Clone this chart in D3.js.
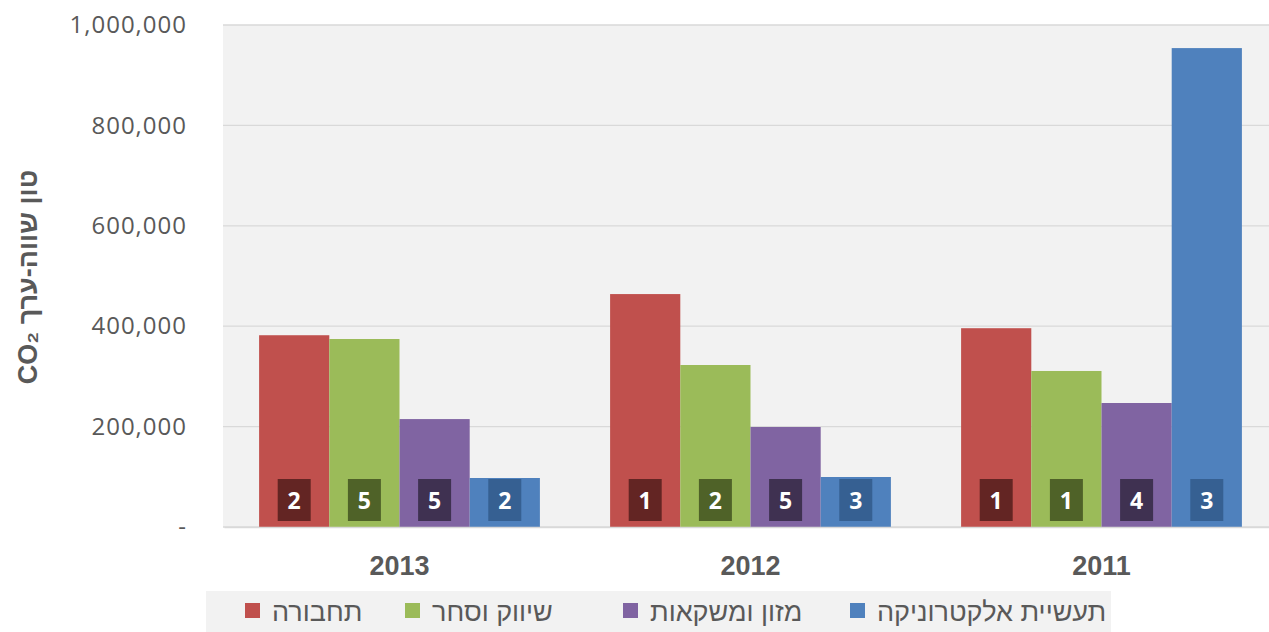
<!DOCTYPE html>
<html><head><meta charset="utf-8">
<script src="https://cdn.jsdelivr.net/npm/d3@7"></script>
<style>body{margin:0;background:#fff}svg{display:block}</style>
</head><body>
<script>
const years = ["2013","2012","2011"];
const seriesNames = ["תחבורה","שיווק וסחר","מזון ומשקאות","תעשיית אלקטרוניקה"];
const transport = [382000, 464000, 396000];
const trade = [374500, 322700, 310800];
const food = [215000, 199200, 247000];
const electronics = [97600, 99600, 954000];
const rankTransport = [2, 1, 1];
const rankTrade = [5, 2, 1];
const rankFood = [5, 5, 4];
const rankElectronics = [2, 3, 3];
const yTicks = [0, 200000, 400000, 600000, 800000, 1000000];
const yTickLabels = ["-", "200,000", "400,000", "600,000", "800,000", "1,000,000"];
const yTitle = "טון שווה-ערך CO₂";

const colors = ["#C0504D","#9BBB59","#8064A2","#4F81BD"];
const badgeColors = ["#632523","#4F6228","#3F3151","#366092"];
const values = [transport, trade, food, electronics];
const ranks = [rankTransport, rankTrade, rankFood, rankElectronics];

const W = 1269, H = 632;
const svg = d3.select("body").append("svg").attr("width", W).attr("height", H);
const font = "'Open Sans', sans-serif";
const hfont = "'Liberation Sans', Arial, sans-serif";
const grey = "#595959";

const pLeft = 224, pRight = 1277, pTop = 25, pBottom = 527;
const x = d3.scaleBand().domain(years).range([pLeft, pRight]).paddingInner(0.2).paddingOuter(0.1);
const xs = d3.scaleBand().domain(d3.range(4)).range([0, x.bandwidth()]);
const y = d3.scaleLinear().domain([0, 1000000]).range([pBottom, pTop]);

svg.append("rect").attr("x", pLeft - 1).attr("y", pTop).attr("width", pRight - pLeft).attr("height", pBottom - pTop).attr("fill", "#F2F2F2");

svg.append("g").selectAll("line").data(yTicks).join("line")
  .attr("x1", pLeft - 1).attr("x2", pRight)
  .attr("y1", d => y(d)).attr("y2", d => y(d))
  .attr("stroke", "#D9D9D9").attr("stroke-width", 1.3);

const yAxis = d3.axisLeft(y).tickValues(yTicks).tickSize(0).tickPadding(0)
  .tickFormat((d, i) => yTickLabels[i]);
const ga = svg.append("g").attr("transform", `translate(187,0)`).call(yAxis);
ga.select(".domain").remove();
ga.selectAll("text").attr("font-family", font).attr("font-size", 24).attr("fill", grey)
  .attr("letter-spacing", 1);

const groups = svg.append("g").selectAll("g").data(years).join("g")
  .attr("transform", d => `translate(${x(d)},0)`);

groups.each(function(yr, gi) {
  const g = d3.select(this);
  for (let s = 0; s < 4; s++) {
    const v = values[s][gi];
    g.append("rect").attr("x", xs(s)).attr("width", xs.bandwidth())
      .attr("y", y(v)).attr("height", y(0) - y(v)).attr("fill", colors[s]);
    const cx = xs(s) + xs.bandwidth() / 2;
    g.append("rect").attr("x", cx - 16.5).attr("y", 479).attr("width", 33).attr("height", 42)
      .attr("fill", badgeColors[s]);
    g.append("text").attr("x", cx).attr("y", 509).attr("text-anchor", "middle")
      .attr("font-family", font).attr("font-weight", "bold").attr("font-size", 23)
      .attr("fill", "#fff").text(ranks[s][gi]);
  }
});

const xAxis = d3.axisBottom(x).tickSize(0).tickPadding(0);
const gx = svg.append("g").attr("transform", `translate(0,${pBottom})`).call(xAxis);
gx.select(".domain").attr("stroke", "#D9D9D9").attr("stroke-width", 1.3);
gx.selectAll("text").attr("y", 48).attr("dy", null).attr("font-family", hfont)
  .attr("font-weight", "bold").attr("font-size", 27).attr("fill", grey);

svg.append("text").attr("transform", `translate(37,277) rotate(-90)`)
  .attr("text-anchor", "middle").attr("direction", "rtl")
  .attr("font-family", hfont).attr("font-weight", "bold").attr("font-size", 27).attr("fill", grey)
  .text(yTitle);

// legend
svg.append("rect").attr("x", 206).attr("y", 591).attr("width", 905).attr("height", 41).attr("fill", "#F2F2F2");
const legendX = [245, 405, 623, 850];
const lg = svg.append("g").selectAll("g").data(seriesNames).join("g")
  .attr("transform", (d, i) => `translate(${legendX[i]},0)`);
lg.append("rect").attr("x", 0).attr("y", 603).attr("width", 15).attr("height", 15)
  .attr("fill", (d, i) => colors[i]);
lg.append("text").attr("x", 27).attr("y", 621).attr("font-family", hfont).attr("font-size", 27)
  .attr("fill", grey).attr("direction", "rtl").attr("text-anchor", "end").text(d => d);
</script>
</body></html>
